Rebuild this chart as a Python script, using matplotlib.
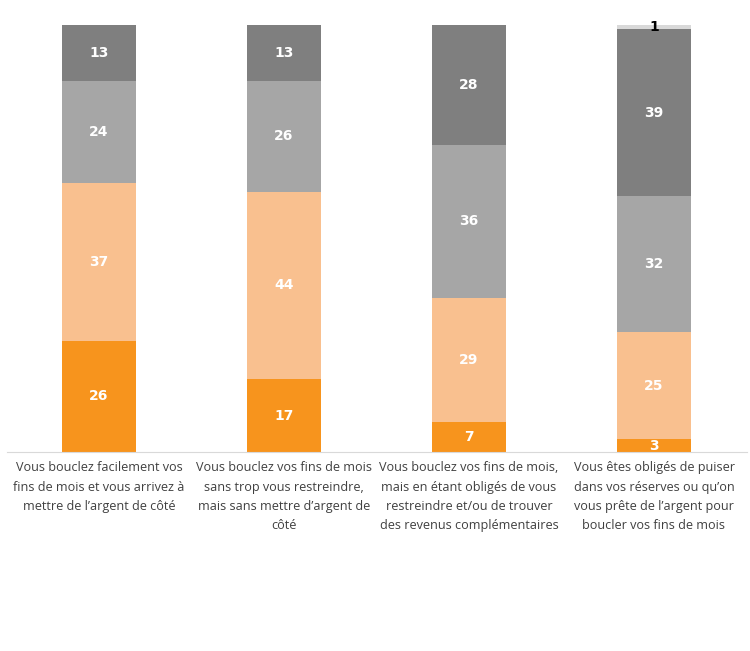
import matplotlib.pyplot as plt
import numpy as np

categories = [
    "Vous bouclez facilement vos\nfins de mois et vous arrivez à\nmettre de l’argent de côté",
    "Vous bouclez vos fins de mois\nsans trop vous restreindre,\nmais sans mettre d’argent de\ncôté",
    "Vous bouclez vos fins de mois,\nmais en étant obligés de vous\nrestreindre et/ou de trouver\ndes revenus complémentaires",
    "Vous êtes obligés de puiser\ndans vos réserves ou qu’on\nvous prête de l’argent pour\nboucler vos fins de mois",
]
s1 = [26, 17, 7, 3]
s2 = [37, 44, 29, 25]
s3 = [24, 26, 36, 32]
s4 = [13, 13, 28, 39]
s5 = [0, 0, 0, 1]

series = [s1, s2, s3, s4, s5]
colors = ["#F7941D", "#F9C08F", "#A6A6A6", "#7F7F7F", "#D9D9D9"]
label_colors = ["white", "white", "white", "white", "black"]

fig = plt.figure(figsize=(7.5, 6.51), dpi=100)
ax = fig.add_axes([6.5 / 750, (651 - 452) / 651, 740 / 750, 427 / 651])

x = np.arange(len(categories))
bottom = np.zeros(len(categories))
for vals, col, lc in zip(series, colors, label_colors):
    vals = np.array(vals, dtype=float)
    ax.bar(x, vals, 0.4, bottom=bottom, color=col, edgecolor="none")
    for xi, v, b in zip(x, vals, bottom):
        if v > 0:
            ax.text(xi, b + v / 2, f"{int(v)}", ha="center", va="center",
                    color=lc, fontsize=10, fontweight="bold", family="DejaVu Sans")
    bottom += vals

ax.set_xlim(-0.5, 3.5)
ax.set_ylim(0, 100)
ax.set_yticks([])
ax.set_xticks([])
for sp in ["top", "right", "left"]:
    ax.spines[sp].set_visible(False)
ax.spines["bottom"].set_color("#D9D9D9")

for xi, lab in zip(x, categories):
    ax.text(xi, -2.2, lab, ha="center", va="top", fontsize=9.1,
            color="#404040", family="Open Sans", linespacing=1.62)

fig.savefig("out.png", dpi=100)
